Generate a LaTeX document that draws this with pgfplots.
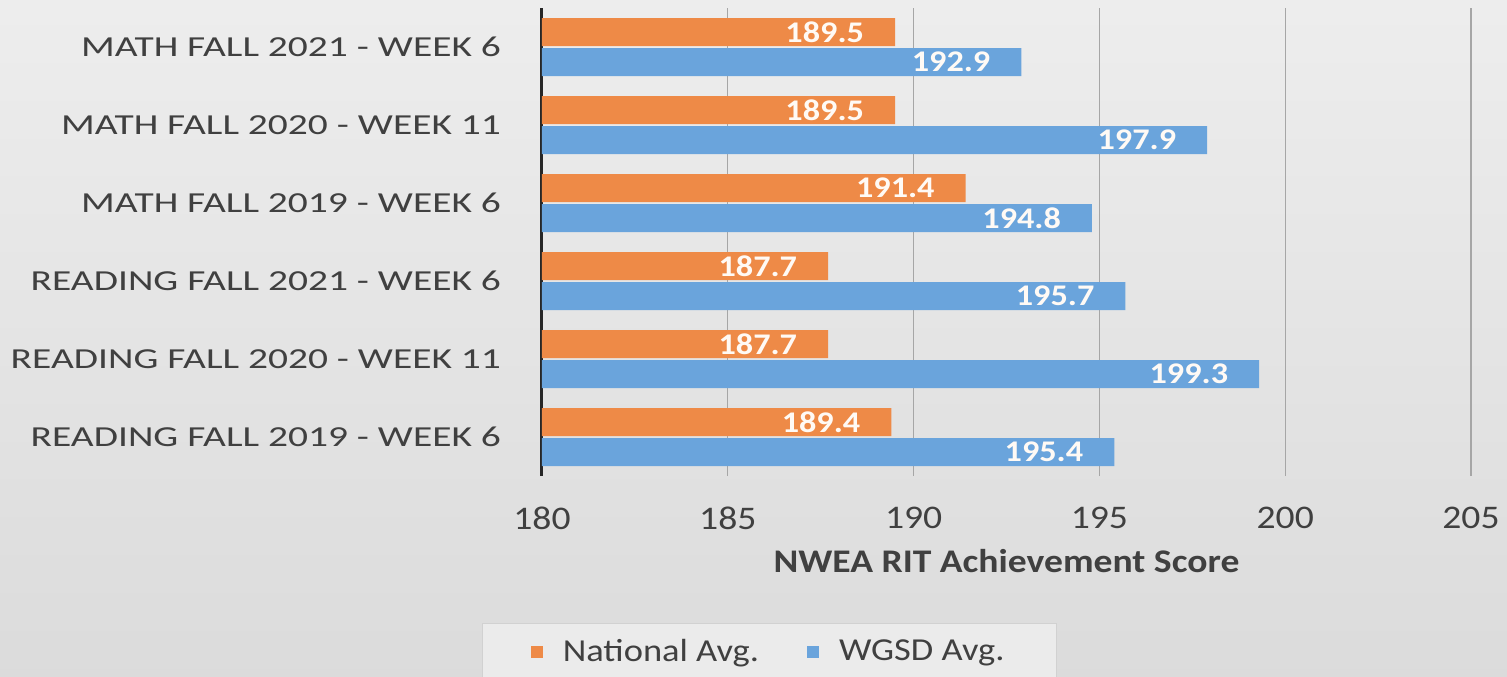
\documentclass[border=0pt]{standalone}
\usepackage{pgfplots}
\pgfplotsset{compat=1.18}
\usepackage{fontspec}
\setmainfont{Carlito}[FakeStretch=1.14]
\newfontfamily\catfont{Carlito}[FakeStretch=1.36]
\definecolor{natorange}{HTML}{EE8A47}
\definecolor{wgsdblue}{HTML}{6AA4DC}
\definecolor{txtgray}{HTML}{404040}
\begin{document}
\begin{tikzpicture}
\shade[top color=white!93!black, bottom color=white!86!black] (-271pt,-100pt) rectangle (482.5pt,238pt);
\path[use as bounding box] (-271pt,-100pt) rectangle (482.5pt,238pt);
\begin{axis}[
  xbar,
  scale only axis,
  width=464.5pt, height=234pt,
  xmin=180, xmax=205,
  ymin=-0.5, ymax=5.5,
  xtick={180,185,...,205},
  ytick={0,1,2,3,4,5},
  yticklabels={READING FALL 2019 - WEEK 6, READING FALL 2020 - WEEK 11, READING FALL 2021 - WEEK 6, MATH FALL 2019 - WEEK 6, MATH FALL 2020 - WEEK 11, MATH FALL 2021 - WEEK 6},
  yticklabel style={font=\catfont\fontsize{14.5}{16}\selectfont, text=txtgray, xshift=-17pt},
  xticklabel style={font=\fontsize{16.5}{18}\selectfont, text=txtgray, yshift=-12pt},
  /pgf/number format/assume math mode=true,
  xticklabel={\pgfmathprintnumber[1000 sep={}]{\tick}},
  major tick length=0pt,
  axis x line*=bottom,
  axis y line*=left,
  x axis line style={draw=none},
  y axis line style={draw=black!85, line width=1.5pt},
  xmajorgrids=true,
  grid style={draw=black!35, line width=0.7pt},
  xlabel={\bfseries NWEA RIT Achievement Score},
  xlabel style={font=\fontsize{16.5}{18}\selectfont, text=txtgray, yshift=-3pt},
  bar width=14pt,
  nodes near coords,
  nodes near coords style={font=\bfseries\fontsize{15}{16}\selectfont, text=white!96!orange, anchor=east, xshift=-12pt,
    /pgf/number format/.cd, fixed, precision=1, fixed zerofill, 1000 sep={}, assume math mode=true},
  legend style={at={(rel axis cs:0.245,-0.376)}, anchor=center, legend columns=2,
    fill=white!92!black, draw=white!82!black, font=\fontsize{16}{18}\selectfont, text=txtgray,
    inner xsep=24pt, inner ysep=6pt,
    /tikz/every odd column/.append style={column sep=8pt},
    /tikz/every even column/.append style={column sep=22pt}},
  legend image code/.code={\fill[#1] (0pt,-3pt) rectangle (6pt,3pt);},
]
\addplot[draw=none, fill=natorange, bar shift=7.5pt] coordinates {
  (189.4,0) (187.7,1) (187.7,2) (191.4,3) (189.5,4) (189.5,5)};
\addlegendentry{National Avg.}
\addplot[draw=none, fill=wgsdblue, bar shift=-7.5pt] coordinates {
  (195.4,0) (199.3,1) (195.7,2) (194.8,3) (197.9,4) (192.9,5)};
\addlegendentry{WGSD Avg.}
\end{axis}
\end{tikzpicture}
\end{document}
